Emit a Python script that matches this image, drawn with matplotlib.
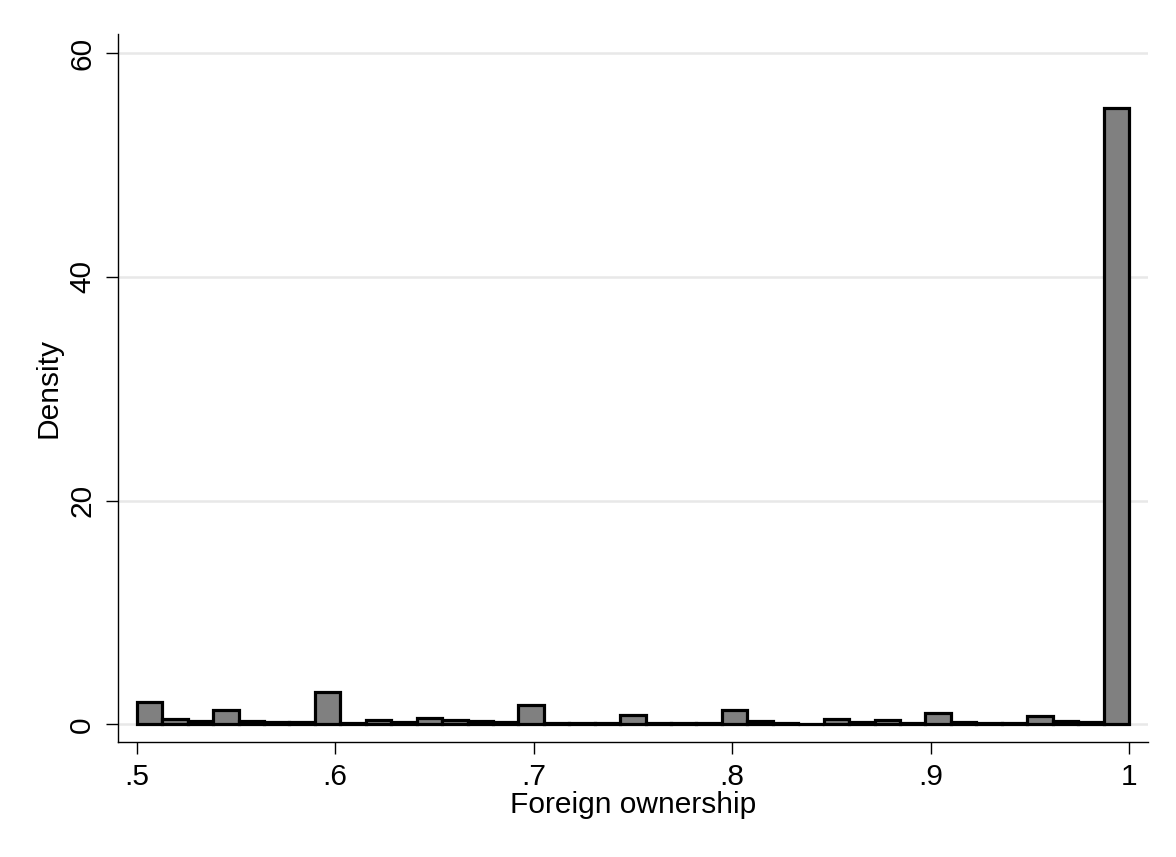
import numpy as np
import matplotlib
matplotlib.use("Agg")
import matplotlib.pyplot as plt

plt.rcParams['font.family'] = ['Liberation Sans', 'DejaVu Sans']

# histogram of foreign ownership share, 39 bins between .5 and 1
bin_lo = 0.5
bin_hi = 1.0
n_bins = 39
density = [2.0, 0.45, 0.3, 1.25, 0.3, 0.2, 0.2, 2.9, 0.15, 0.4,
           0.2, 0.55, 0.4, 0.3, 0.2, 1.7, 0.15, 0.15, 0.15, 0.87,
           0.15, 0.15, 0.15, 1.25, 0.3, 0.15, 0.0, 0.5, 0.2, 0.35,
           0.15, 1.05, 0.2, 0.15, 0.15, 0.72, 0.3, 0.25, 55.15]
xticks = [0.5, 0.6, 0.7, 0.8, 0.9, 1.0]
xticklabels = ['.5', '.6', '.7', '.8', '.9', '1']
yticks = [0, 20, 40, 60]

edges = np.linspace(bin_lo, bin_hi, n_bins + 1)
width = edges[1] - edges[0]

fig = plt.figure(figsize=(11.76, 8.57), dpi=100)
ax = fig.add_axes([0.1001, 0.1338, 0.8758, 0.8262])

ax.bar(edges[:-1], density, width=width, align='edge',
       color='#808080', edgecolor='black', linewidth=2.3, zorder=3)

ax.set_xlim(0.4904, 1.0094)
ax.set_ylim(-1.61, 61.7)
ax.set_xticks(xticks)
ax.set_xticklabels(xticklabels)
ax.set_yticks(yticks)
ax.set_yticklabels([str(v) for v in yticks], rotation=90, va='center')

ax.yaxis.grid(True, color='#e8e8e8', linewidth=1.8, zorder=0)
ax.set_axisbelow(True)
for s in ['top', 'right']:
    ax.spines[s].set_visible(False)
for s in ['left', 'bottom']:
    ax.spines[s].set_linewidth(1.0)
    ax.spines[s].set_color('black')

ax.tick_params(axis='both', direction='out', length=8.6, width=1.0,
               labelsize=21.5, colors='black')
ax.tick_params(axis='y', pad=7)
ax.tick_params(axis='x', pad=6)

ax.set_xlabel('Foreign ownership', fontsize=21.5, labelpad=0)
ax.set_ylabel('Density', fontsize=21.5, labelpad=4)

fig.savefig('out.png', dpi=100, facecolor='white')
